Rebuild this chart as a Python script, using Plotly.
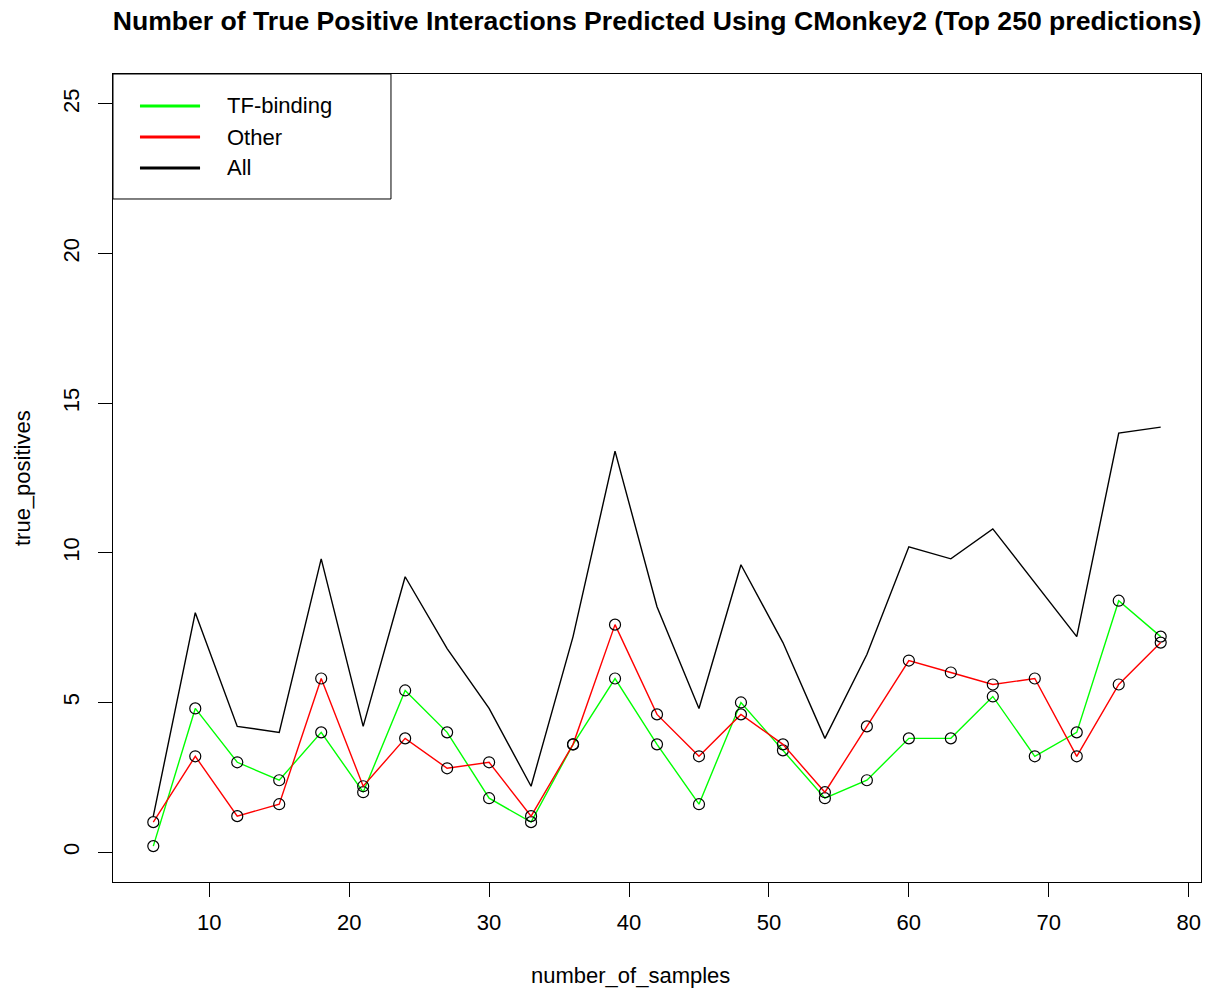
import plotly.graph_objects as go

# Number of samples used for each CMonkey2 run
number_of_samples = [6, 9, 12, 15, 18, 21, 24, 27, 30, 33, 36, 39, 42,
                     45, 48, 51, 54, 57, 60, 63, 66, 69, 72, 75, 78]

# True positives among the top 250 predictions
tf_binding = [0.2, 4.8, 3.0, 2.4, 4.0, 2.0, 5.4, 4.0, 1.8, 1.0, 3.6, 5.8, 3.6,
              1.6, 5.0, 3.4, 1.8, 2.4, 3.8, 3.8, 5.2, 3.2, 4.0, 8.4, 7.2]
other = [1.0, 3.2, 1.2, 1.6, 5.8, 2.2, 3.8, 2.8, 3.0, 1.2, 3.6, 7.6, 4.6,
         3.2, 4.6, 3.6, 2.0, 4.2, 6.4, 6.0, 5.6, 5.8, 3.2, 5.6, 7.0]
all_interactions = [1.2, 8.0, 4.2, 4.0, 9.8, 4.2, 9.2, 6.8, 4.8, 2.2, 7.2, 13.4, 8.2,
                    4.8, 9.6, 7.0, 3.8, 6.6, 10.2, 9.8, 10.8, 9.0, 7.2, 14.0, 14.2]

series_names = ["TF-binding", "Other", "All"]
series_colors = ["#00FF00", "#FF0000", "#000000"]

x_ticks = [10, 20, 30, 40, 50, 60, 70, 80]
y_ticks = [0, 5, 10, 15, 20, 25]

FONT = "Liberation Sans, Arial, Helvetica, sans-serif"

fig = go.Figure()

# "All" drawn as a plain line
fig.add_trace(go.Scatter(
    x=number_of_samples, y=all_interactions, mode="lines",
    line=dict(color=series_colors[2], width=1.4), showlegend=False))

# TF-binding and Other: coloured lines with open black circles
circle = dict(symbol="circle-open", size=11, color="black", line=dict(width=1.2))
fig.add_trace(go.Scatter(
    x=number_of_samples, y=tf_binding, mode="lines+markers",
    line=dict(color=series_colors[0], width=1.4), marker=circle, showlegend=False))
fig.add_trace(go.Scatter(
    x=number_of_samples, y=other, mode="lines+markers",
    line=dict(color=series_colors[1], width=1.4), marker=circle, showlegend=False))

axis_common = dict(
    showline=True, linecolor="black", linewidth=1, mirror=True,
    showgrid=False, zeroline=False,
    ticks="outside", ticklen=14, tickwidth=1, tickcolor="black",
    tickfont=dict(family=FONT, size=22, color="black"),
)

fig.update_xaxes(range=[3.12, 80.88], tickvals=x_ticks, ticklabelstandoff=7,
                 **axis_common)
fig.update_yaxes(range=[-1, 26], tickvals=y_ticks, tickangle=-90,
                 ticklabelstandoff=10, **axis_common)

# Legend box drawn in paper coordinates
shapes = [dict(type="rect", xref="paper", yref="paper",
               x0=0, x1=0.2555, y0=0.8453, y1=1,
               line=dict(color="black", width=1), fillcolor="white", layer="above")]
annotations = []
row_y = [0.9604, 0.922, 0.8837]
for name, color, yy in zip(series_names, series_colors, row_y):
    shapes.append(dict(type="line", xref="paper", yref="paper",
                       x0=0.0248, x1=0.08, y0=yy, y1=yy,
                       line=dict(color=color, width=3), layer="above"))
    annotations.append(dict(text=name, xref="paper", yref="paper",
                            x=0.1030, y=yy, xanchor="left", yanchor="middle",
                            showarrow=False,
                            font=dict(family=FONT, size=22, color="black")))

# Axis titles
annotations.append(dict(text="number_of_samples", xref="paper", yref="paper",
                        x=0.4752, y=-0.1151, xanchor="center", yanchor="middle",
                        showarrow=False, font=dict(family=FONT, size=22, color="black")))
annotations.append(dict(text="true_positives", xref="paper", yref="paper",
                        x=-0.0836, y=0.5, xanchor="center", yanchor="middle",
                        textangle=-90, showarrow=False,
                        font=dict(family=FONT, size=22, color="black")))

fig.update_layout(
    width=1207, height=988,
    margin=dict(l=113, r=6, t=74, b=106),
    paper_bgcolor="white", plot_bgcolor="white",
    title=dict(text="<b>Number of True Positive Interactions Predicted Using CMonkey2 (Top 250 predictions)</b>",
               x=0.5, xref="paper", xanchor="center",
               y=1 - 21 / 988, yref="container", yanchor="middle",
               font=dict(family=FONT, size=26.6, color="black")),
    shapes=shapes, annotations=annotations,
    showlegend=False,
)

fig.write_html("out.html")
